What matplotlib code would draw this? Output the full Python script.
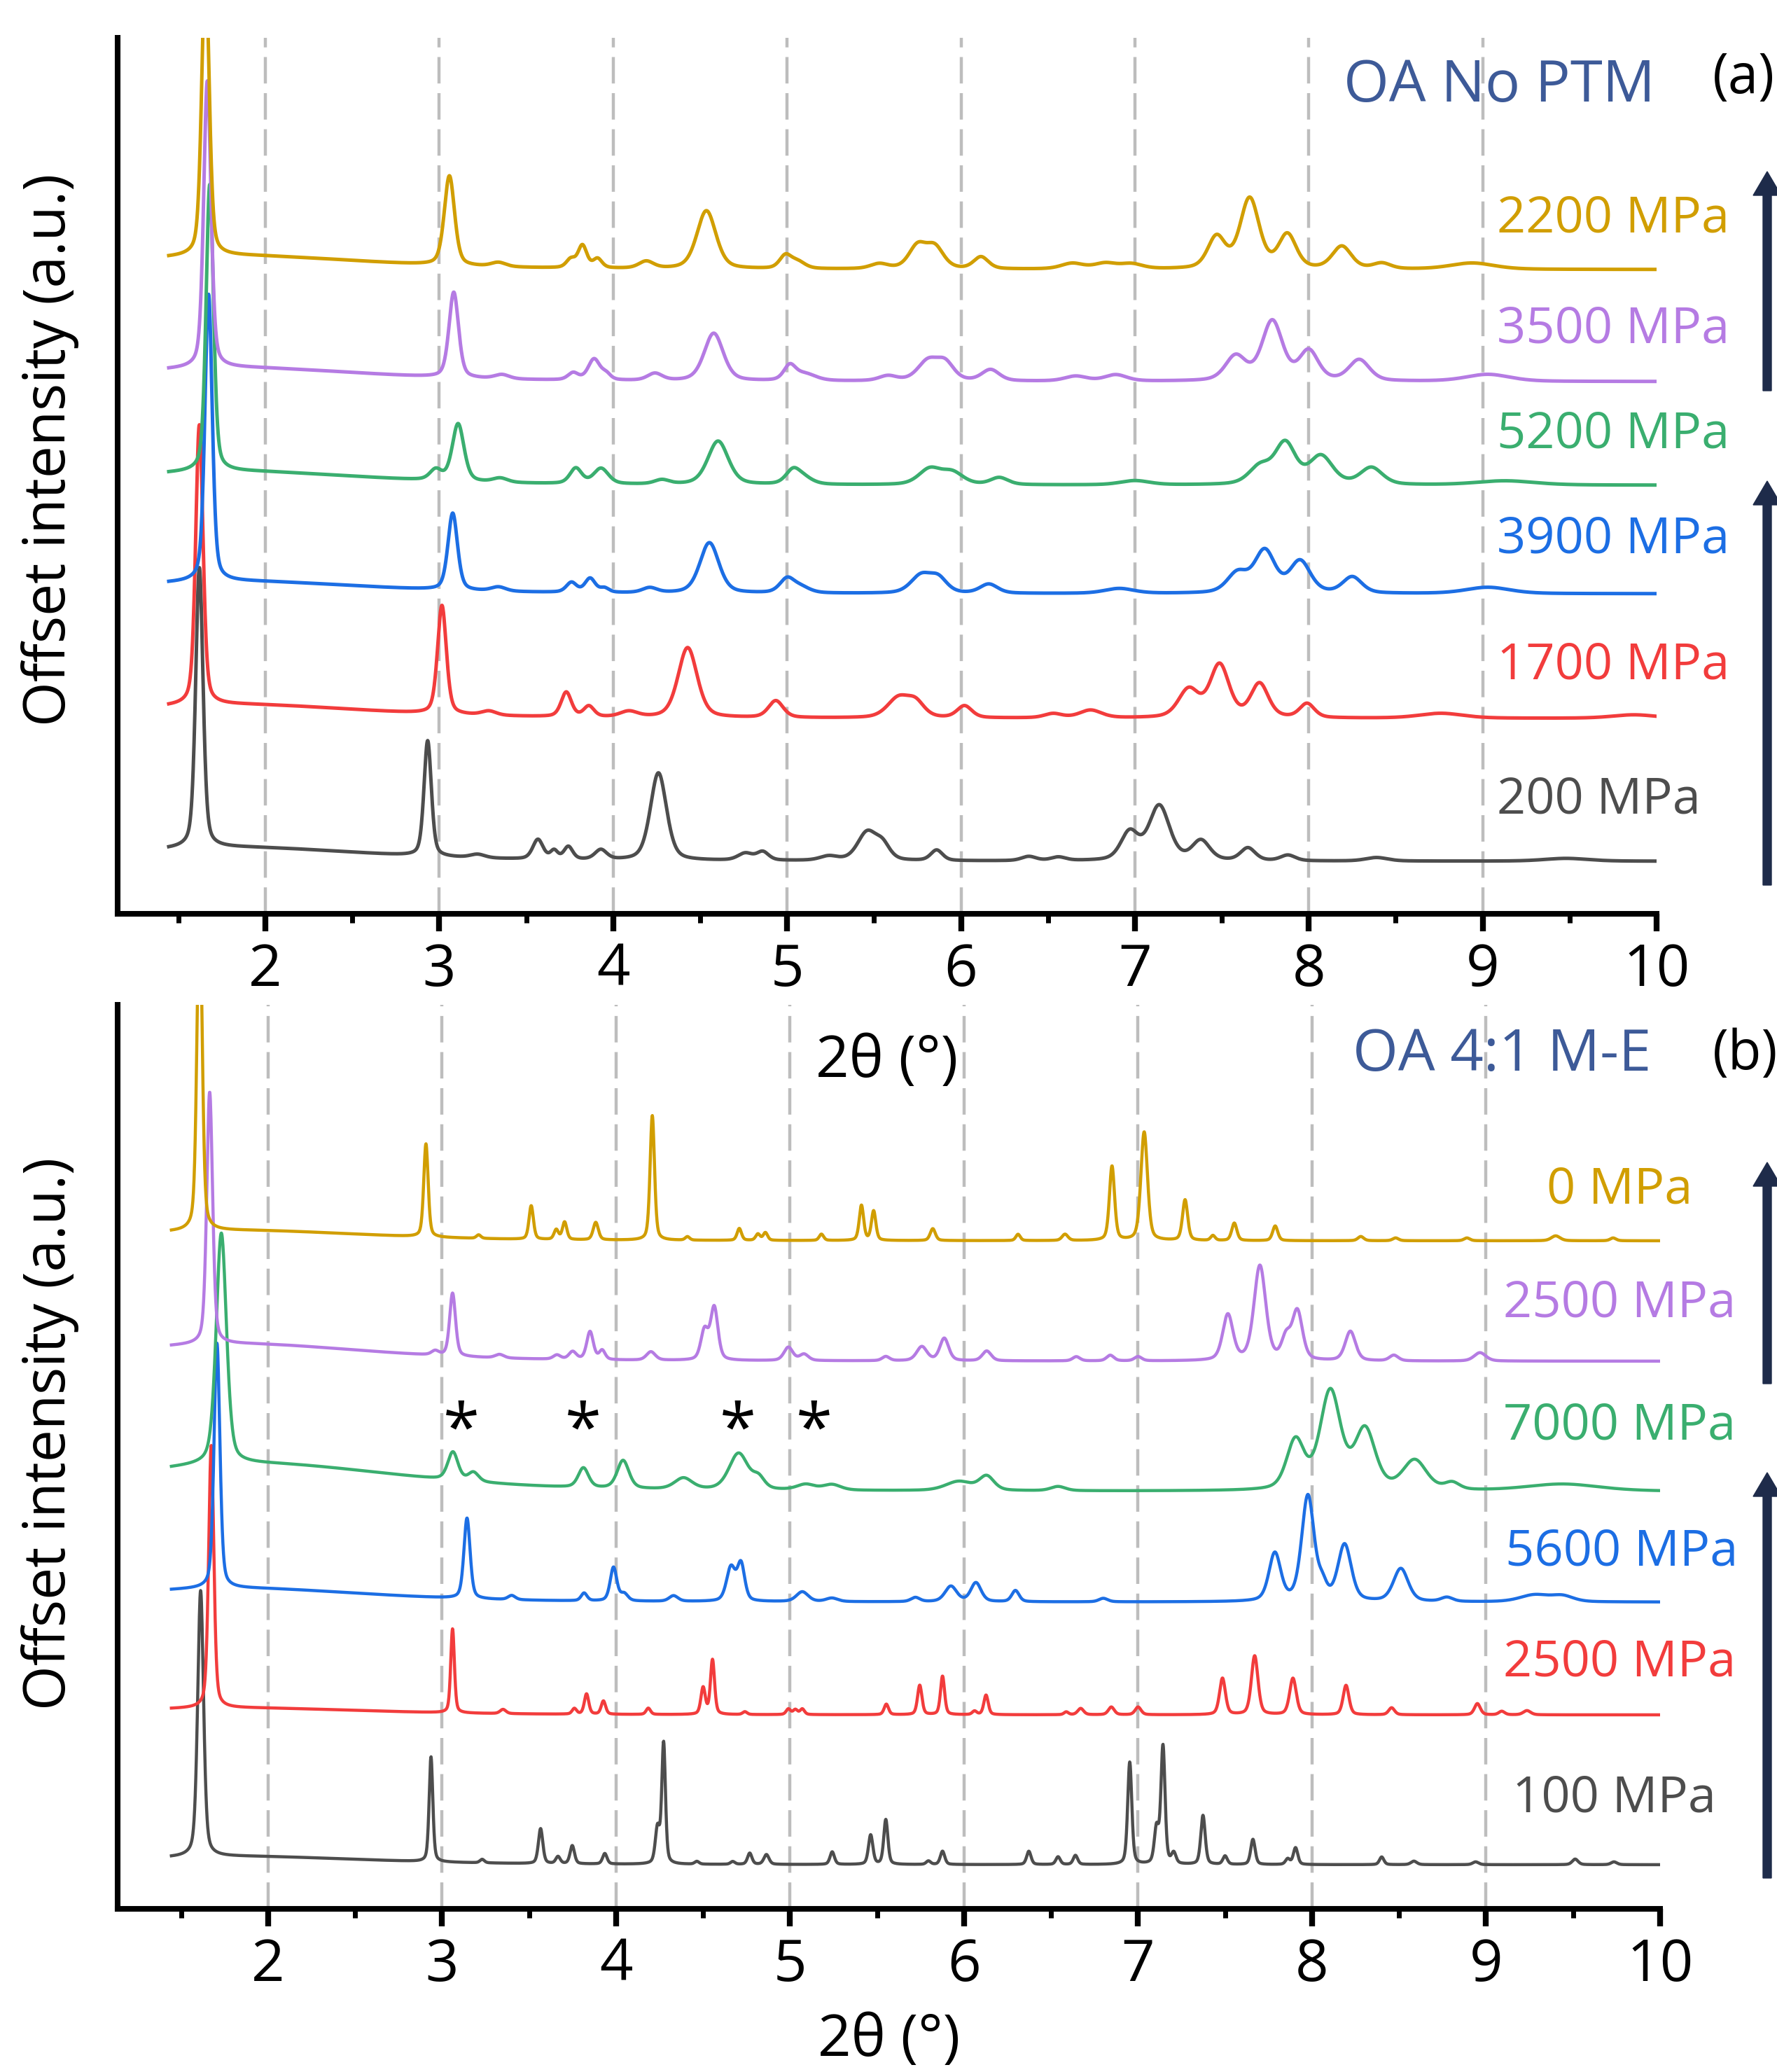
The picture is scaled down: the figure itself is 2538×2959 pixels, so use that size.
import numpy as np
import matplotlib.pyplot as plt
from matplotlib.patches import FancyArrow
from matplotlib.ticker import MultipleLocator

plt.rcParams['font.family'] = ['Open Sans', 'DejaVu Sans']

# peaks: (2theta, height above baseline, fwhm)
# offsets are the flat baseline of each pattern (arbitrary units)

# ---- (a) OA No PTM ----
a_labels = ["200 MPa", "1700 MPa", "3900 MPa", "5200 MPa", "3500 MPa", "2200 MPa"]
a_base = [72, 276, 454, 609, 757, 917]
a_200 = [(1.62, 400, 0.05), (1.8, 20, 1.8), (2.933, 165, 0.05), (3.22, 5, 0.1),
         (3.567, 28, 0.07), (3.66, 12, 0.05), (3.742, 18, 0.06), (3.929, 14, 0.08),
         (4.26, 125, 0.11), (4.76, 10, 0.1), (4.86, 12, 0.08), (5.24, 6, 0.12),
         (5.46, 40, 0.13), (5.55, 20, 0.1), (5.86, 15, 0.08), (6.39, 6, 0.1),
         (6.56, 5, 0.1), (6.97, 40, 0.12), (7.14, 78, 0.14), (7.38, 28, 0.12),
         (7.65, 18, 0.1), (7.88, 8, 0.1), (8.39, 5, 0.15), (9.48, 4, 0.3)]
a_1700 = [(1.62, 400, 0.05), (1.8, 20, 1.8), (3.015, 155, 0.06), (3.285, 6, 0.1),
          (3.73, 35, 0.07), (3.86, 15, 0.07), (4.09, 8, 0.12), (4.428, 100, 0.13),
          (4.935, 24, 0.1), (5.64, 28, 0.15), (5.74, 20, 0.12), (6.02, 17, 0.1),
          (6.53, 6, 0.12), (6.745, 11, 0.15), (7.31, 40, 0.14), (7.487, 75, 0.13),
          (7.717, 48, 0.12), (7.99, 20, 0.1), (8.76, 7, 0.3), (9.87, 5, 0.3)]
a_3900 = [(1.673, 410, 0.05), (1.8, 18, 1.8), (3.077, 110, 0.065), (3.34, 6, 0.1),
          (3.76, 14, 0.07), (3.867, 20, 0.07), (3.95, 6, 0.06), (4.21, 7, 0.1),
          (4.553, 72, 0.13), (5.0, 20, 0.1), (5.08, 8, 0.12), (5.77, 25, 0.14),
          (5.87, 20, 0.12), (6.16, 13, 0.12), (6.91, 7, 0.2), (7.59, 28, 0.14),
          (7.747, 60, 0.14), (7.95, 45, 0.14), (8.25, 23, 0.13), (9.03, 9, 0.3)]
a_5200 = [(1.68, 410, 0.05), (1.8, 20, 1.8), (2.98, 15, 0.08), (3.108, 82, 0.08),
          (3.35, 6, 0.1), (3.785, 22, 0.08), (3.93, 22, 0.1), (4.28, 6, 0.1),
          (4.603, 62, 0.14), (5.035, 20, 0.1), (5.10, 8, 0.12), (5.82, 22, 0.15),
          (5.95, 17, 0.15), (6.22, 10, 0.12), (7.0, 6, 0.2), (7.72, 25, 0.15),
          (7.865, 58, 0.14), (8.07, 40, 0.16), (8.36, 24, 0.15), (9.13, 6, 0.4)]
a_3500 = [(1.666, 410, 0.05), (1.8, 20, 1.8), (3.083, 122, 0.065), (3.36, 6, 0.1),
          (3.77, 10, 0.07), (3.89, 30, 0.08), (3.96, 8, 0.06), (4.24, 10, 0.1),
          (4.578, 68, 0.13), (5.015, 20, 0.08), (5.1, 10, 0.15), (5.58, 7, 0.12),
          (5.81, 28, 0.14), (5.91, 24, 0.12), (6.17, 16, 0.12), (6.66, 7, 0.15),
          (6.89, 9, 0.15), (7.58, 35, 0.14), (7.79, 85, 0.14), (8.0, 42, 0.13),
          (8.29, 30, 0.14), (9.03, 10, 0.3)]
a_2200 = [(1.655, 420, 0.05), (1.8, 20, 1.8), (3.058, 128, 0.07), (3.34, 6, 0.1),
          (3.756, 12, 0.06), (3.823, 32, 0.06), (3.91, 13, 0.06), (4.19, 10, 0.1),
          (4.536, 83, 0.13), (4.99, 18, 0.08), (5.06, 10, 0.1), (5.53, 7, 0.12),
          (5.75, 32, 0.12), (5.85, 30, 0.12), (6.115, 17, 0.1), (6.64, 8, 0.15),
          (6.83, 8, 0.15), (6.98, 7, 0.15), (7.47, 45, 0.12), (7.66, 100, 0.13),
          (7.877, 48, 0.12), (8.19, 32, 0.13), (8.42, 8, 0.12), (8.94, 9, 0.3)]

# ---- (b) OA 4:1 M-E ----
b_labels = ["100 MPa", "2500 MPa", "5600 MPa", "7000 MPa", "2500 MPa", "0 MPa"]
b_base = [63, 277, 438, 596, 782, 954]
b_100 = [(1.612, 380, 0.04), (1.8, 12, 1.8), (2.936, 150, 0.025), (3.23, 5, 0.03),
         (3.566, 50, 0.03), (3.666, 10, 0.03), (3.748, 26, 0.03), (3.935, 15, 0.03),
         (4.238, 50, 0.03), (4.273, 172, 0.025), (4.464, 4, 0.03), (4.67, 4, 0.03),
         (4.768, 16, 0.03), (4.864, 14, 0.035), (5.242, 18, 0.03), (5.463, 42, 0.03),
         (5.55, 64, 0.028), (5.795, 5, 0.03), (5.876, 19, 0.03), (6.372, 19, 0.03),
         (6.54, 11, 0.03), (6.64, 13, 0.03), (6.952, 146, 0.028), (7.106, 50, 0.03),
         (7.143, 168, 0.028), (7.205, 15, 0.03), (7.373, 70, 0.03), (7.5, 12, 0.03),
         (7.66, 36, 0.03), (7.86, 8, 0.03), (7.905, 24, 0.03), (8.40, 11, 0.03),
         (8.585, 5, 0.04), (8.94, 4, 0.04), (9.512, 8, 0.04), (9.735, 4, 0.04)]
b_2500_lo = [(1.673, 375, 0.035), (1.8, 10, 1.8), (3.06, 120, 0.025), (3.35, 6, 0.04),
             (3.76, 8, 0.03), (3.83, 29, 0.03), (3.927, 19, 0.03), (4.185, 9, 0.03),
             (4.50, 38, 0.03), (4.554, 78, 0.028), (4.74, 4, 0.03), (4.99, 8, 0.03),
             (5.03, 7, 0.03), (5.07, 8, 0.03), (5.553, 15, 0.03), (5.745, 42, 0.03),
             (5.876, 55, 0.028), (6.06, 5, 0.03), (6.126, 28, 0.03), (6.587, 4, 0.03),
             (6.67, 9, 0.04), (6.846, 11, 0.04), (7.0, 11, 0.04), (7.485, 52, 0.04),
             (7.67, 84, 0.045), (7.89, 52, 0.045), (8.195, 42, 0.04), (8.457, 10, 0.04),
             (8.95, 16, 0.04), (9.09, 5, 0.04), (9.235, 6, 0.05)]
b_5600 = [(1.706, 350, 0.04), (1.8, 20, 1.8), (3.143, 115, 0.042), (3.40, 6, 0.05),
          (3.816, 11, 0.04), (3.985, 48, 0.045), (4.046, 10, 0.05), (4.33, 8, 0.06),
          (4.66, 48, 0.06), (4.718, 52, 0.05), (5.07, 14, 0.08), (5.24, 5, 0.08),
          (5.72, 6, 0.06), (5.924, 22, 0.08), (6.068, 27, 0.07), (6.295, 16, 0.05),
          (6.8, 5, 0.06), (7.786, 68, 0.08), (7.976, 150, 0.085), (8.06, 20, 0.06),
          (8.187, 80, 0.09), (8.51, 47, 0.1), (8.775, 6, 0.08), (9.28, 10, 0.2),
          (9.44, 8, 0.15)]
b_7000 = [(1.731, 330, 0.07), (1.9, 40, 2.0), (3.062, 40, 0.07), (3.18, 13, 0.07),
          (3.812, 28, 0.07), (4.04, 40, 0.08), (4.387, 16, 0.12), (4.704, 52, 0.13),
          (4.82, 15, 0.08), (5.09, 8, 0.12), (5.24, 8, 0.12), (5.97, 13, 0.18),
          (6.13, 20, 0.1), (6.54, 6, 0.1), (7.905, 70, 0.12), (8.105, 140, 0.14),
          (8.304, 85, 0.14), (8.59, 42, 0.16), (8.805, 10, 0.1), (9.44, 10, 0.5)]
b_2500_hi = [(1.664, 360, 0.04), (1.8, 25, 1.8), (2.96, 6, 0.05), (3.06, 90, 0.04),
             (3.33, 5, 0.06), (3.66, 6, 0.05), (3.75, 11, 0.05), (3.85, 40, 0.045),
             (3.92, 13, 0.04), (4.2, 12, 0.06), (4.508, 42, 0.05), (4.564, 75, 0.05),
             (4.99, 19, 0.06), (5.08, 9, 0.06), (5.55, 6, 0.05), (5.757, 20, 0.07),
             (5.886, 32, 0.06), (6.13, 14, 0.06), (6.645, 6, 0.05), (6.84, 8, 0.05),
             (7.0, 6, 0.05), (7.516, 65, 0.07), (7.70, 135, 0.08), (7.85, 30, 0.06),
             (7.915, 70, 0.07), (8.22, 42, 0.07), (8.47, 8, 0.06), (8.965, 12, 0.08)]
b_0 = [(1.606, 480, 0.035), (1.8, 15, 1.8), (2.907, 133, 0.03), (3.21, 5, 0.03),
       (3.512, 48, 0.03), (3.656, 14, 0.03), (3.704, 25, 0.03), (3.883, 25, 0.035),
       (4.208, 178, 0.03), (4.41, 5, 0.03), (4.708, 17, 0.03), (4.815, 9, 0.03),
       (4.858, 11, 0.03), (5.18, 9, 0.03), (5.41, 50, 0.03), (5.48, 42, 0.03),
       (5.82, 17, 0.035), (6.31, 9, 0.03), (6.58, 9, 0.04), (6.85, 106, 0.035),
       (7.035, 155, 0.045), (7.27, 58, 0.035), (7.43, 7, 0.03), (7.553, 25, 0.035),
       (7.788, 21, 0.035), (8.28, 6, 0.04), (8.48, 4, 0.04), (8.89, 4, 0.04),
       (9.40, 7, 0.06), (9.73, 4, 0.04)]

star_pos = [3.11, 3.81, 4.70, 5.14]

colors = ['#4d4d4d', '#f23c3c', '#1c6ee4', '#3aae6f', '#b57be3', '#d19e00']


def pattern(x, peaks, base, eta=0.4):
    y = np.full_like(x, float(base))
    for c, h, w in peaks:
        d = (x - c) / (w / 2)
        y += h * (eta / (1 + d ** 2) + (1 - eta) * np.exp(-np.log(2) * d ** 2))
    return y


x = np.linspace(1.444, 10, 5000)

fig = plt.figure(figsize=(25.38, 29.59), dpi=100)
W, H = 2538, 2959
ax1 = fig.add_axes([168 / W, 1 - 1305 / H, (2366 - 168) / W, (1305 - 54) / H])
ax2 = fig.add_axes([168 / W, 1 - 2726 / H, (2371 - 168) / W, (2726 - 1435) / H])

panels = [
    (ax1, [a_200, a_1700, a_3900, a_5200, a_3500, a_2200], a_base, a_labels,
     [141, 332, 512, 662, 813, 971], [9.08] * 6, 3.6),
    (ax2, [b_100, b_2500_lo, b_5600, b_7000, b_2500_hi, b_0], b_base, b_labels,
     [138, 332, 490, 671, 846, 1008], [9.15, 9.10, 9.11, 9.10, 9.10, 9.35], 3.2),
]

for ax, curves, bases, labels, lab_y, lab_x, lw in panels:
    for g in range(2, 10):
        ax.axvline(g, color='#bdbdbd', lw=3.2, dashes=(8.5, 3.1), zorder=0)
    for peaks, base, col, lab, ly, lx in zip(curves, bases, colors, labels, lab_y, lab_x):
        ax.plot(x, pattern(x, peaks, base), color=col, lw=lw, zorder=2)
        ax.text(lx, ly, lab, color=col, fontsize=52, ha='left', va='baseline')
    ax.set_xlim(1.15 if ax is ax1 else 1.135, 10)
    ax.xaxis.set_major_locator(MultipleLocator(1))
    ax.xaxis.set_minor_locator(MultipleLocator(0.5))
    ax.tick_params(axis='x', which='major', length=18, width=6, pad=11, labelsize=60)
    ax.tick_params(axis='x', which='minor', length=9, width=5)
    ax.set_yticks([])
    for s in ['top', 'right']:
        ax.spines[s].set_visible(False)
    for s in ['left', 'bottom']:
        ax.spines[s].set_linewidth(5.8)

ax1.set_ylim(-3, 1248)
ax2.set_ylim(0, 1291)

for sx in star_pos:
    ax2.text(sx, 656, '*', fontsize=68, ha='center', va='baseline', color='black')

# titles and panel letters
ax1.text(9.99, 1157, 'OA No PTM', color='#3d5a98', fontsize=60, ha='right', va='baseline')
ax2.text(9.95, 1197, 'OA 4:1 M-E', color='#3d5a98', fontsize=60, ha='right', va='baseline')
fig.text(2446 / W, 1 - 133 / H, '(a)', fontsize=56, ha='left', va='baseline')
fig.text(2446 / W, 1 - 1527 / H, '(b)', fontsize=56, ha='left', va='baseline')

# axis labels
fig.text(1267 / W, 1 - 1538 / H, '2θ (°)', fontsize=60, ha='center', va='baseline')
fig.text(1270 / W, 1 - 2936 / H, '2θ (°)', fontsize=60, ha='center', va='baseline')
fig.text(72 / W, 1 - 642 / H, 'Offset intensity (a.u.)', fontsize=59, rotation=90,
         ha='center', va='center')
fig.text(72 / W, 1 - 2047 / H, 'Offset intensity (a.u.)', fontsize=59, rotation=90,
         ha='center', va='center')

# pressure direction arrows
for top, bot in [(245, 558), (687, 1264), (1660, 1976), (2103, 2682)]:
    arr = FancyArrow(25.24, (H - bot) / 100, 0, (bot - top) / 100, width=0.12,
                     head_width=0.40, head_length=0.34, length_includes_head=True,
                     color='#1e2b4a', transform=fig.dpi_scale_trans)
    fig.add_artist(arr)

fig.savefig('out.png', dpi=100)
